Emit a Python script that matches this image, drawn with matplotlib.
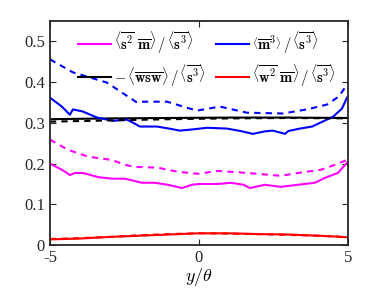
import numpy as np
import matplotlib.pyplot as plt

plt.rcParams['font.family'] = 'serif'
plt.rcParams['font.serif'] = ['Liberation Serif', 'DejaVu Serif']
plt.rcParams['mathtext.fontset'] = 'cm'

# blue: <m^3>/<s^3>
y_blue = [-5, -4.6, -4.33, -4.23, -3.9, -3.42, -2.88, -2.42, -2.2, -1.98, -1.41, -1.0, -0.64, -0.2,
          0.27, 0.94, 1.4, 1.81, 2.2, 2.48, 2.89, 3.0, 3.39, 3.8, 4.06, 4.5, 4.8, 4.97]
blue_solid = [0.362, 0.340, 0.320, 0.333, 0.328, 0.313, 0.305, 0.308, 0.300, 0.291, 0.291, 0.286,
              0.281, 0.284, 0.288, 0.286, 0.280, 0.273, 0.279, 0.281, 0.273, 0.280, 0.286, 0.291,
              0.300, 0.315, 0.335, 0.362]
y_blue_d = [-5, -4.23, -3.09, -2.08, -1.98, -1.07, -0.07, 0.70, 1.61, 2.82, 3.62, 4.30, 4.7, 4.97]
blue_dash = [0.456, 0.424, 0.399, 0.350, 0.352, 0.352, 0.330, 0.340, 0.325, 0.323, 0.333, 0.345,
             0.365, 0.394]

# magenta: <s^2 m>/<s^3>
y_mag = [-5, -4.6, -4.33, -4.16, -3.89, -3.39, -2.92, -2.48, -1.91, -1.48, -1.04, -0.57, -0.24,
         0.0, 0.64, 1.07, 1.5, 1.71, 2.21, 2.75, 3.32, 3.89, 4.23, 4.66, 4.97]
mag_solid = [0.200, 0.185, 0.172, 0.177, 0.177, 0.167, 0.163, 0.163, 0.153, 0.153, 0.148, 0.140,
             0.148, 0.150, 0.150, 0.153, 0.148, 0.140, 0.148, 0.143, 0.148, 0.153, 0.165, 0.177,
             0.202]
y_mag_d = [-5, -4.4, -3.72, -2.92, -2.48, -2.15, -1.38, -0.71, -0.03, 0.64, 1.64, 2.75, 3.32, 4.1,
           4.56, 4.97]
mag_dash = [0.259, 0.234, 0.217, 0.209, 0.197, 0.192, 0.190, 0.180, 0.175, 0.182, 0.177, 0.170,
            0.177, 0.185, 0.197, 0.209]

# black: -<wsw>/<s^3>
y_blk = [-5, -3, -1, 1, 3, 5]
blk_solid = [0.309, 0.311, 0.312, 0.313, 0.313, 0.312]
blk_dash = [0.303, 0.306, 0.309, 0.311, 0.312, 0.311]

# red: <w^2 m>/<s^3>
y_red = [-5, -4, -3, -2, -1, 0, 1, 2, 3, 4, 4.6, 5]
red_solid = [0.014, 0.016, 0.020, 0.023, 0.026, 0.029, 0.029, 0.027, 0.026, 0.023, 0.021, 0.019]
red_dash = [0.015, 0.017, 0.020, 0.024, 0.027, 0.029, 0.028, 0.027, 0.025, 0.023, 0.021, 0.019]

lab_mag = r'$\left\langle\overline{\mathbf{s}^2}\ \overline{\mathbf{m}}\right\rangle\,/\,\left\langle\overline{\mathbf{s}^3}\right\rangle$'
lab_blk = r'$-\,\langle\overline{\mathbf{wsw}}\rangle\,/\,\left\langle\overline{\mathbf{s}^3}\right\rangle$'
lab_blue = r'$\left\langle\overline{\mathbf{m}}^3\right\rangle\,/\,\left\langle\overline{\mathbf{s}^3}\right\rangle$'
lab_red = r'$\left\langle\overline{\mathbf{w}^2}\ \overline{\mathbf{m}}\right\rangle\,/\,\left\langle\overline{\mathbf{s}^3}\right\rangle$'

fig = plt.figure(figsize=(3.84, 2.88), dpi=100)
ax = fig.add_axes([0.130, 0.149, 0.776, 0.778])

lw = 1.5
ax.plot(y_mag, mag_solid, color='#ff00ff', lw=lw, label=lab_mag)
ax.plot(y_blk, blk_solid, color='black', lw=lw, label=lab_blk)
ax.plot(y_blue, blue_solid, color='#0000ff', lw=lw, label=lab_blue)
ax.plot(y_red, red_solid, color='#ff0000', lw=lw, label=lab_red)
ax.plot(y_mag_d, mag_dash, color='#ff00ff', lw=lw, ls=(0, (3, 2.5)))
ax.plot(y_blk, blk_dash, color='black', lw=lw, ls=(0, (3, 2.5)))
ax.plot(y_blue_d, blue_dash, color='#0000ff', lw=lw, ls=(0, (3, 2.5)))
ax.plot(y_red, red_dash, color='#ff0000', lw=lw, ls=(0, (3, 2.5)))

ax.set_xlim(-5, 5)
ax.set_ylim(0, 0.55)
ax.set_xticks([-5, 0, 5])
ax.set_xticklabels(['-5', '0', '5'])
ax.set_yticks([0, 0.1, 0.2, 0.3, 0.4, 0.5])
ax.set_yticklabels(['0', '0.1', '0.2', '0.3', '0.4', '0.5'])
ax.tick_params(direction='in', top=True, right=True, labelsize=12, colors='#262626', length=4)
for s in ax.spines.values():
    s.set_linewidth(1.3)
    s.set_color('#262626')
ax.set_xlabel(r'$y/\theta$', fontsize=13, labelpad=0)

ax.legend(loc='upper center', bbox_to_anchor=(0.527, 0.99), borderaxespad=0, ncol=2,
          frameon=False, fontsize=10.5, handlelength=2.3, columnspacing=0.7,
          handletextpad=0.2, labelspacing=0.45)

fig.savefig('out.png', dpi=100)
